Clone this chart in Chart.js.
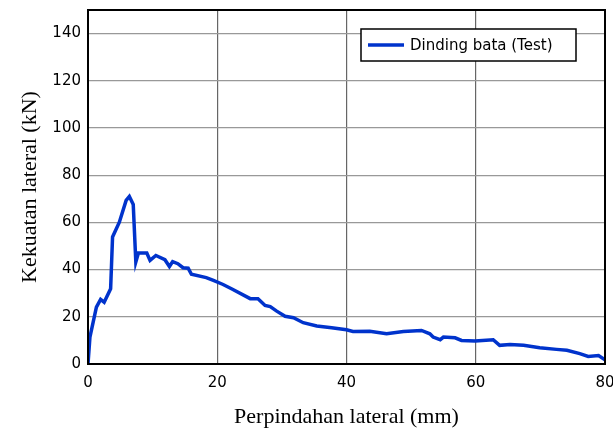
<!DOCTYPE html>
<html>
<head>
<meta charset="utf-8">
<script src="https://cdn.jsdelivr.net/npm/chart.js@4.4.0/dist/chart.umd.min.js"></script>
<style>
  html, body { margin: 0; padding: 0; background: #fff; }
  #wrap { width: 613px; height: 434px; }
</style>
</head>
<body>
<div id="wrap"><canvas id="chart" width="613" height="434"></canvas></div>
<script>
// displacement (mm) and lateral strength (kN)
var dispMm = [0, 0.3, 1.3, 1.95, 2.5, 3.5, 3.8, 4.85, 5.9, 6.4, 7.0, 7.4, 7.8, 9.1, 9.6, 10.5,
    11.9, 12.6, 13.1, 13.9, 14.7, 15.5, 16.0, 18.3, 19.4, 20.9, 22.2, 25.1, 26.3, 27.4, 28.2,
    29.2, 30.5, 31.8, 33.3, 35.4, 37.7, 40.0, 41.0, 43.6, 46.2, 48.8, 51.6, 52.9, 53.4, 54.5,
    55.0, 56.8, 57.8, 59.9, 62.7, 63.7, 65.3, 67.4, 69.9, 72.5, 74.1, 76.1, 77.4, 79.0, 80.0];
var strengthKn = [0, 11.4, 24.1, 27.4, 26.2, 31.9, 53.8, 60.1, 69.3, 71.0, 67.6, 43.2, 47.0, 47.0, 43.9, 46.0,
    44.2, 41.3, 43.4, 42.5, 40.8, 40.6, 38.0, 36.6, 35.4, 33.7, 31.9, 27.7, 27.7, 24.8, 24.3,
    22.4, 20.2, 19.6, 17.5, 16.1, 15.4, 14.5, 13.8, 13.9, 12.8, 13.8, 14.2, 12.8, 11.4, 10.3,
    11.4, 11.1, 10.0, 9.7, 10.3, 7.9, 8.3, 7.9, 6.9, 6.2, 5.8, 4.4, 3.2, 3.6, 1.8];
var xTicks = [0, 20, 40, 60, 80];
var yTicks = [0, 20, 40, 60, 80, 100, 120, 140];
var seriesName = 'Dinding bata (Test)';

var points = dispMm.map(function (x, i) { return { x: x, y: strengthKn[i] }; });

var tickFont = { family: '"DejaVu Sans", "Noto Sans", sans-serif', size: 15 };
var titleFont = { family: '"Liberation Serif", "Times New Roman", serif', size: 22 };

// frame around the plot + legend box drawn inside the plot area
var framePlugin = {
    id: 'frame',
    afterDraw: function (chart) {
        var ctx = chart.ctx, a = chart.chartArea;
        ctx.save();
        ctx.strokeStyle = '#000';
        ctx.lineWidth = 2;
        ctx.strokeRect(a.left, a.top, a.right - a.left, a.bottom - a.top);

        var bx = 361, by = 29, bw = 215, bh = 32;
        ctx.fillStyle = '#fff';
        ctx.fillRect(bx, by, bw, bh);
        ctx.lineWidth = 1.5;
        ctx.strokeRect(bx, by, bw, bh);
        ctx.strokeStyle = '#0033cc';
        ctx.lineWidth = 3.5;
        ctx.beginPath();
        ctx.moveTo(368, by + bh / 2);
        ctx.lineTo(404, by + bh / 2);
        ctx.stroke();
        ctx.fillStyle = '#000';
        ctx.font = '15px ' + tickFont.family;
        ctx.textBaseline = 'middle';
        ctx.fillText(seriesName, 410, by + bh / 2 + 1);
        ctx.restore();
    }
};

new Chart(document.getElementById('chart').getContext('2d'), {
    type: 'line',
    data: {
        datasets: [{
            label: seriesName,
            data: points,
            borderColor: '#0033cc',
            borderWidth: 3.5,
            pointRadius: 0,
            tension: 0,
            fill: false
        }]
    },
    options: {
        responsive: false,
        animation: false,
        layout: { padding: { top: 10, right: 8, left: 13, bottom: 0 } },
        plugins: {
            legend: { display: false },
            tooltip: { enabled: false }
        },
        scales: {
            x: {
                type: 'linear',
                min: 0,
                max: 80,
                afterBuildTicks: function (axis) {
                    axis.ticks = xTicks.map(function (v) { return { value: v }; });
                },
                afterFit: function (axis) {
                    axis.height = 70;
                    axis.paddingLeft = 0;
                    axis.paddingRight = 0;
                },
                ticks: { color: '#000', font: tickFont, padding: 10 },
                grid: { color: '#666', lineWidth: 1.2, drawTicks: false },
                border: { display: false },
                title: {
                    display: true,
                    text: 'Perpindahan lateral (mm)',
                    color: '#000',
                    font: titleFont,
                    padding: { top: 4 }
                }
            },
            y: {
                min: 0,
                max: 150,
                afterBuildTicks: function (axis) {
                    axis.ticks = yTicks.map(function (v) { return { value: v }; });
                },
                afterFit: function (axis) {
                    axis.width = 75;
                    axis.paddingTop = 0;
                    axis.paddingBottom = 0;
                },
                ticks: { color: '#000', font: tickFont, padding: 7 },
                grid: { color: '#999', lineWidth: 1.2, drawTicks: false },
                border: { display: false },
                title: {
                    display: true,
                    text: 'Kekuatan lateral (kN)',
                    color: '#000',
                    font: titleFont,
                    padding: { bottom: 4 }
                }
            }
        }
    },
    plugins: [framePlugin]
});
</script>
</body>
</html>
